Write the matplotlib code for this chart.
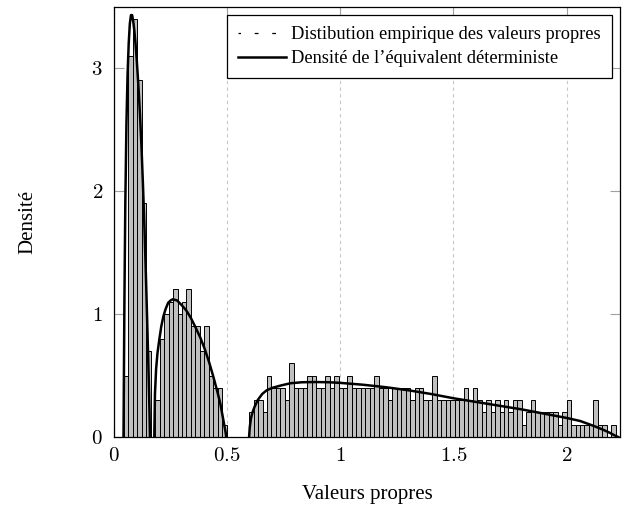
import matplotlib
matplotlib.use('Agg')
import matplotlib.pyplot as plt
import numpy as np
from matplotlib.lines import Line2D

plt.rcParams['font.family'] = 'serif'
plt.rcParams['font.serif'] = ['Liberation Serif', 'DejaVu Serif']
plt.rcParams['mathtext.fontset'] = 'cm'

# histogram of eigenvalues (density per bin)
bin_start = 0.0437
bin_width = 0.01976
hist_density = [
    0.5, 3.1, 3.4, 2.9, 1.9, 0.7, 0.0,
    0.3, 0.8, 1.0, 1.1, 1.2, 1.0, 1.1, 1.2, 0.9, 0.9, 0.7, 0.9, 0.5, 0.4, 0.4, 0.1,
    0.0, 0.0, 0.0, 0.0, 0.0,
    0.2, 0.3, 0.3, 0.2, 0.5, 0.4, 0.4, 0.4, 0.3,
    0.6, 0.4, 0.4, 0.4, 0.5, 0.5, 0.4, 0.4, 0.5, 0.4,
    0.5, 0.4, 0.4, 0.5, 0.4, 0.4, 0.4, 0.4, 0.4, 0.5,
    0.4, 0.4, 0.3, 0.4, 0.4, 0.4, 0.4, 0.3, 0.4, 0.4, 0.3, 0.3, 0.5,
    0.3, 0.3, 0.3, 0.3, 0.3, 0.3, 0.4, 0.3, 0.4, 0.3, 0.2, 0.3, 0.2, 0.3, 0.2,
    0.3, 0.2, 0.3, 0.3, 0.1, 0.2, 0.3, 0.2,
    0.2, 0.2, 0.2, 0.2, 0.1, 0.2, 0.3, 0.1, 0.1, 0.1, 0.1, 0.1, 0.3, 0.1, 0.1,
    0.0, 0.1,
]

# deterministic equivalent density, three bulks
bulk1_x = [0.042, 0.046, 0.05, 0.055, 0.06, 0.065, 0.07, 0.075, 0.08, 0.085,
           0.09, 0.095, 0.1, 0.107, 0.114, 0.121, 0.128, 0.135, 0.142, 0.148,
           0.153, 0.157, 0.159]
bulk1_y = [0, 1.1, 1.9, 2.55, 2.95, 3.2, 3.36, 3.43, 3.43, 3.38,
           3.3, 3.2, 3.08, 2.88, 2.65, 2.38, 2.05, 1.68, 1.25, 0.85,
           0.5, 0.2, 0]
bulk2_x = [0.178, 0.181, 0.186, 0.192, 0.2, 0.209, 0.218, 0.228, 0.239, 0.25,
           0.26, 0.279, 0.3, 0.319, 0.339, 0.358, 0.381, 0.4, 0.42, 0.439,
           0.458, 0.47, 0.478, 0.487, 0.493, 0.496]
bulk2_y = [0, 0.35, 0.55, 0.68, 0.79, 0.9, 0.98, 1.04, 1.09, 1.11,
           1.12, 1.11, 1.07, 1.03, 0.97, 0.9, 0.81, 0.72, 0.61, 0.49,
           0.36, 0.27, 0.19, 0.1, 0.04, 0]
bulk3_x = [0.597, 0.6, 0.605, 0.612, 0.62, 0.635, 0.655, 0.675, 0.7, 0.74,
           0.78, 0.83, 0.89, 0.95, 1.0, 1.1, 1.2, 1.3, 1.4, 1.5,
           1.6, 1.7, 1.8, 1.9, 2.0, 2.06, 2.12, 2.16, 2.19, 2.21,
           2.222, 2.228]
bulk3_y = [0, 0.08, 0.15, 0.2, 0.24, 0.3, 0.35, 0.38, 0.4, 0.42,
           0.437, 0.445, 0.447, 0.445, 0.44, 0.425, 0.405, 0.38, 0.35, 0.315,
           0.285, 0.255, 0.225, 0.19, 0.155, 0.13, 0.09, 0.06, 0.035, 0.015,
           0.005, 0]

x_ticks = [0, 0.5, 1, 1.5, 2]
y_ticks = [0, 1, 2, 3]
legend_labels = ['Distibution empirique des valeurs propres',
                 "Densité de l\u2019équivalent déterministe"]

fig = plt.figure(figsize=(6.22, 5.09), dpi=100)
ax = fig.add_axes([114 / 622, 1 - 437 / 509, 506 / 622, 430.5 / 509])

edges = bin_start + bin_width * np.arange(len(hist_density))
ax.bar(edges, hist_density, width=bin_width, align='edge',
       color='#c0c0c0', edgecolor='black', linewidth=0.7, zorder=2)

for bx, by in [(bulk1_x, bulk1_y), (bulk2_x, bulk2_y), (bulk3_x, bulk3_y)]:
    ax.plot(bx, by, color='black', lw=1.8, zorder=3)

ax.set_xlim(0, 2.236)
ax.set_ylim(0, 3.5)
ax.set_xticks(x_ticks)
ax.set_xticklabels([f'${t:g}$' for t in x_ticks])
ax.set_yticks(y_ticks)
ax.set_yticklabels([f'${t:g}$' for t in y_ticks])
ax.tick_params(direction='in', length=7.5, width=0.8, color='#a0a0a0',
               top=True, right=True, labelsize=15)
ax.tick_params(axis='y', pad=8)
ax.tick_params(axis='x', pad=7)
ax.xaxis.grid(True, color='#c8c8c8', lw=0.8, ls=(0, (3, 3)), zorder=0)
ax.set_axisbelow(True)
for s in ax.spines.values():
    s.set_linewidth(0.9)

ax.set_xlabel('Valeurs propres', fontsize=15, va='center')
ax.xaxis.set_label_coords(0.5, (437 - 494) / 430.5)
ax.set_ylabel('Densité', fontsize=15, va='center')
ax.yaxis.set_label_coords((28 - 114) / 506, (437 - 222) / 430.5)

handles = [Line2D([], [], color='black', lw=0.9, ls=(1, (3, 11))),
           Line2D([], [], color='black', lw=1.8)]
leg = ax.legend(handles, legend_labels, loc='upper right',
                bbox_to_anchor=(0.984, 0.98), borderaxespad=0, fontsize=13.2,
                fancybox=False, framealpha=1, edgecolor='black',
                handlelength=2.6, handletextpad=0.3, labelspacing=0.4,
                borderpad=0.6)
leg.get_frame().set_linewidth(0.9)

fig.savefig('out.png', dpi=100)
